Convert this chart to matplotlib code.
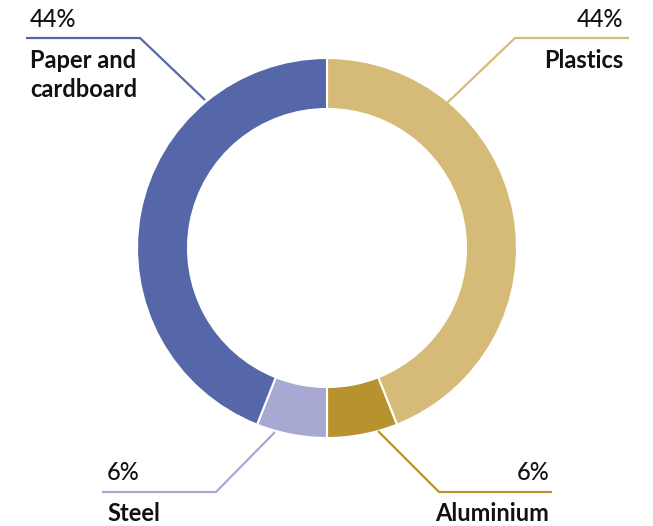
import matplotlib
matplotlib.use("Agg")
import matplotlib.pyplot as plt

# data
labels = ["Plastics", "Aluminium", "Steel", "Paper and\ncardboard"]
shares = [44, 6, 6, 44]
colors = ["#d6bb78", "#b8922e", "#a7a9d3", "#5567a9"]

W, H = 653, 526
fig = plt.figure(figsize=(W / 100, H / 100), dpi=100)
ax = fig.add_axes([0, 0, 1, 1])

# work in pixel units, y measured upward
cx, cy, R = 327, H - 248, 190
ax.pie(shares, colors=colors, startangle=90, counterclock=False,
       center=(cx, cy), radius=R,
       wedgeprops=dict(width=51, edgecolor="white", linewidth=1.5))
ax.set_xlim(0, W)
ax.set_ylim(0, H)
ax.set_aspect("equal")
ax.axis("off")

txt = "#111111"
fam = ["Lato", "DejaVu Sans"]

# leader lines: (anchor on ring, elbow, end of horizontal)
leaders = {
    "Plastics": [(447, 103), (515, 38), (629, 38)],
    "Aluminium": [(378, 431), (439, 492), (552, 492)],
    "Steel": [(275, 432), (216, 492), (102, 492)],
    "Paper and\ncardboard": [(205, 100), (140, 38), (26, 38)],
}
text_pos = {
    "Plastics": (623, 27, 68, "right"),
    "Aluminium": (549, 480, 521, "right"),
    "Steel": (107, 480, 521, "left"),
    "Paper and\ncardboard": (30, 27, 68, "left"),
}

for lab, val, col in zip(labels, shares, colors):
    pts = leaders[lab]
    ax.plot([p[0] for p in pts], [H - p[1] for p in pts], color=col,
            lw=1.6, solid_capstyle="butt")
    x, y_pct, y_lab, ha = text_pos[lab]
    ax.text(x, H - y_pct, f"{val}%", ha=ha, va="baseline", fontsize=17,
            fontweight="medium", color=txt, family=fam)
    lines = lab.split("\n")
    for i, line in enumerate(lines):
        ax.text(x, H - y_lab - 29 * i, line, ha=ha, va="baseline",
                fontsize=17, fontweight="bold", color=txt, family=fam)

fig.savefig("out.png", dpi=100)
